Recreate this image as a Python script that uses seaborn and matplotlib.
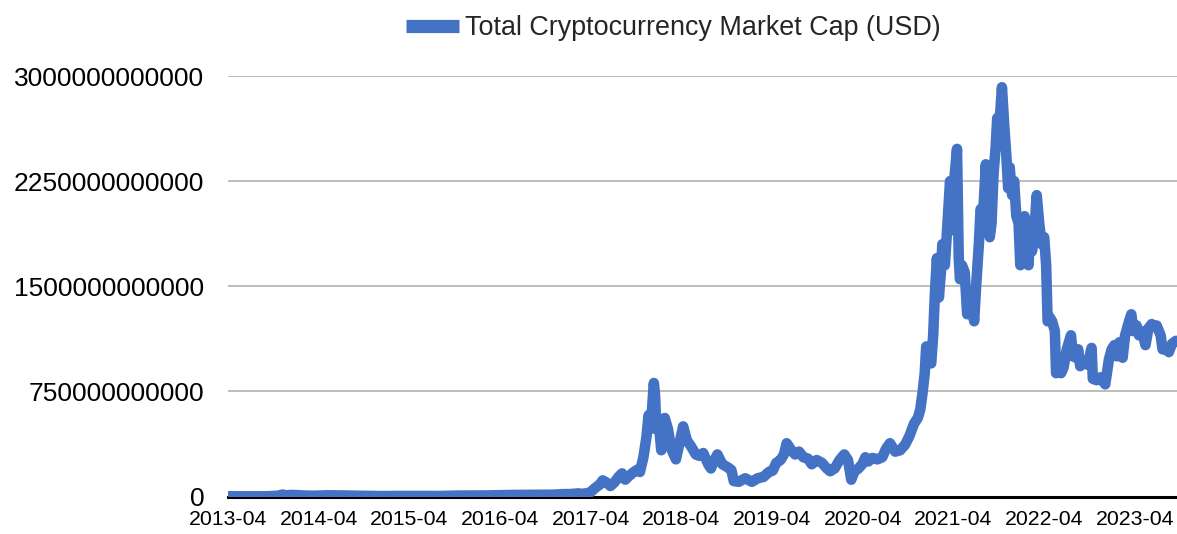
import matplotlib
matplotlib.use("Agg")
import matplotlib.pyplot as plt
from matplotlib.lines import Line2D
import seaborn as sns
import pandas as pd
import numpy as np

# Total cryptocurrency market capitalisation, billions of USD
dates = [
    "2013-04-28", "2013-06-01", "2013-08-01", "2013-10-01", "2013-11-15", "2013-12-04",
    "2013-12-18", "2014-01-05", "2014-02-01", "2014-02-25", "2014-04-10", "2014-06-01",
    "2014-08-01", "2014-10-01", "2015-01-14", "2015-03-01", "2015-06-01", "2015-09-01",
    "2015-11-05", "2016-01-01", "2016-03-01", "2016-06-18", "2016-09-01", "2016-12-01",
    "2017-01-05", "2017-02-01", "2017-03-10", "2017-03-25", "2017-04-25", "2017-05-15",
    "2017-06-03", "2017-06-15", "2017-06-30", "2017-07-16", "2017-08-01", "2017-08-18",
    "2017-09-01", "2017-09-14", "2017-09-28", "2017-10-15", "2017-10-31", "2017-11-12",
    "2017-11-26", "2017-12-08", "2017-12-17", "2017-12-22", "2017-12-30", "2018-01-07",
    "2018-01-12", "2018-01-17", "2018-01-25", "2018-02-06", "2018-02-20", "2018-03-05",
    "2018-03-18", "2018-04-06", "2018-04-20", "2018-05-05", "2018-05-20", "2018-06-05",
    "2018-06-25", "2018-07-10", "2018-07-25", "2018-08-14", "2018-08-25", "2018-09-05",
    "2018-09-20", "2018-10-10", "2018-10-30", "2018-11-15", "2018-11-25", "2018-12-15",
    "2019-01-10", "2019-02-06", "2019-03-01", "2019-03-25", "2019-04-15", "2019-05-01",
    "2019-05-15", "2019-06-01", "2019-06-15", "2019-06-26", "2019-07-15", "2019-07-30",
    "2019-08-15", "2019-09-01", "2019-09-20", "2019-10-05", "2019-10-25", "2019-11-15",
    "2019-12-05", "2019-12-18", "2020-01-05", "2020-01-25", "2020-02-13", "2020-02-28",
    "2020-03-12", "2020-03-25", "2020-04-10", "2020-04-25", "2020-05-08", "2020-05-20",
    "2020-06-05", "2020-06-25", "2020-07-15", "2020-07-30", "2020-08-15", "2020-09-05",
    "2020-09-25", "2020-10-15", "2020-11-01", "2020-11-20", "2020-12-05", "2020-12-15",
    "2020-12-25", "2021-01-02", "2021-01-08", "2021-01-20", "2021-01-28", "2021-02-05",
    "2021-02-12", "2021-02-20", "2021-02-28", "2021-03-08", "2021-03-14", "2021-03-24",
    "2021-04-02", "2021-04-14", "2021-04-24", "2021-05-03", "2021-05-12", "2021-05-19",
    "2021-05-24", "2021-06-01", "2021-06-12", "2021-06-22", "2021-06-30", "2021-07-10",
    "2021-07-20", "2021-07-28", "2021-08-08", "2021-08-15", "2021-08-25", "2021-09-05",
    "2021-09-12", "2021-09-21", "2021-09-28", "2021-10-06", "2021-10-15", "2021-10-21",
    "2021-10-28", "2021-11-09", "2021-11-18", "2021-11-26", "2021-12-04", "2021-12-10",
    "2021-12-20", "2021-12-28", "2022-01-06", "2022-01-15", "2022-01-22", "2022-01-30",
    "2022-02-08", "2022-02-18", "2022-02-24", "2022-03-02", "2022-03-10", "2022-03-18",
    "2022-03-29", "2022-04-08", "2022-04-18", "2022-04-28", "2022-05-06", "2022-05-12",
    "2022-05-20", "2022-05-30", "2022-06-10", "2022-06-15", "2022-06-25", "2022-07-05",
    "2022-07-15", "2022-07-28", "2022-08-14", "2022-08-22", "2022-09-05", "2022-09-12",
    "2022-09-20", "2022-10-05", "2022-10-20", "2022-11-05", "2022-11-10", "2022-11-25",
    "2022-12-10", "2022-12-30", "2023-01-14", "2023-01-25", "2023-02-05", "2023-02-15",
    "2023-02-25", "2023-03-10", "2023-03-20", "2023-04-05", "2023-04-14", "2023-04-22",
    "2023-05-05", "2023-05-15", "2023-05-28", "2023-06-10", "2023-06-22", "2023-07-05",
    "2023-07-15", "2023-07-25", "2023-08-10", "2023-08-18", "2023-09-01", "2023-09-12",
    "2023-09-25", "2023-10-10", "2023-10-20",
]
cap_billions = [
    1.5, 1.3, 1.2, 1.6, 5.5, 14,
    8, 11, 10, 7, 5.5, 8.5,
    7.5, 5.5, 3, 4, 3.7, 3.8,
    6.5, 7, 7.5, 11, 12, 13,
    17, 17, 22, 18, 28, 60,
    85, 115, 100, 75, 100, 140,
    165, 120, 145, 170, 190, 175,
    280, 420, 580, 480, 600, 810,
    720, 480, 560, 330, 560, 480,
    340, 265, 380, 500, 400, 360,
    300, 290, 310, 230, 200, 250,
    300, 230, 210, 190, 110, 105,
    130, 105, 130, 140, 175, 185,
    240, 260, 300, 380, 330, 300,
    320, 280, 270, 230, 260, 240,
    200, 180, 200, 260, 300, 260,
    120, 180, 200, 230, 280, 250,
    275, 265, 280, 340, 380, 320,
    330, 370, 430, 520, 560, 620,
    750, 880, 1070, 1000, 950, 1150,
    1450, 1700, 1420, 1600, 1800, 1650,
    1900, 2250, 1900, 2300, 2480, 1700,
    1550, 1650, 1600, 1300, 1450, 1400,
    1250, 1500, 1800, 2050, 2000, 2370,
    2100, 1850, 1950, 2300, 2500, 2700,
    2600, 2920, 2650, 2450, 2200, 2350,
    2150, 2250, 2000, 1950, 1650, 1700,
    2000, 1800, 1650, 1900, 1750, 1850,
    2150, 1950, 1800, 1850, 1650, 1250,
    1280, 1250, 1180, 880, 900, 880,
    920, 1050, 1150, 1000, 990, 1050,
    930, 960, 940, 1060, 840, 830,
    850, 800, 980, 1050, 1080, 1000,
    1100, 990, 1150, 1250, 1300, 1180,
    1220, 1150, 1180, 1080, 1200, 1230,
    1210, 1220, 1150, 1050, 1050, 1030,
    1090, 1110, 1110,
]

tick_dates = ["2013-04-28", "2014-04-28", "2015-04-28", "2016-04-28", "2017-04-28",
              "2018-04-28", "2019-04-28", "2020-04-28", "2021-04-28", "2022-04-28",
              "2023-04-28"]
tick_labels = ["2013-04", "2014-04", "2015-04", "2016-04", "2017-04", "2018-04",
               "2019-04", "2020-04", "2021-04", "2022-04", "2023-04"]
y_ticks = [0, 750e9, 1500e9, 2250e9, 3000e9]
y_labels = ["0", "750000000000", "1500000000000", "2250000000000", "3000000000000"]
series_name = "Total Cryptocurrency Market Cap (USD)"

LINE_BLUE = "#4472C4"

sns.set_style("white")
plt.rcParams["font.family"] = ["Liberation Sans", "DejaVu Sans"]

df = pd.DataFrame({"date": pd.to_datetime(dates),
                   "cap": np.array(cap_billions, dtype=float) * 1e9})

W, H = 1177, 534
fig = plt.figure(figsize=(W / 100, H / 100), dpi=100)
left, right = 228 / W, 1.0
bottom, top = (H - 496.5) / H, (H - 76) / H
ax = fig.add_axes([left, bottom, right - left, top - bottom])

sns.lineplot(data=df, x="date", y="cap", ax=ax, color=LINE_BLUE,
             linewidth=7.6, legend=False, zorder=3)
ln = ax.lines[0]
ln.set_solid_joinstyle("round")
ln.set_solid_capstyle("round")

ax.set_xlim(pd.Timestamp("2013-04-28"), pd.Timestamp("2023-10-15"))
ax.set_ylim(0, 3e12)

ax.set_yticks(y_ticks)
ax.set_yticklabels(y_labels)
ax.set_xticks(pd.to_datetime(tick_dates))
ax.set_xticklabels(tick_labels)

ax.yaxis.grid(True, color="#bdbdbd", linewidth=1.4)
ax.xaxis.grid(False)
ax.set_axisbelow(True)

for side in ("top", "left", "right"):
    ax.spines[side].set_visible(False)
ax.spines["bottom"].set_color("#000000")
ax.spines["bottom"].set_linewidth(2.2)
ax.spines["bottom"].set_zorder(2.5)

ax.tick_params(axis="y", length=0, pad=17, labelsize=19, labelcolor="#000000")
ax.tick_params(axis="x", length=0, pad=10, labelsize=15.3, labelcolor="#000000")
ax.set_xlabel("")
ax.set_ylabel("")

handle = Line2D([0], [0], color=LINE_BLUE, linewidth=9.5, solid_capstyle="butt")
fig.legend([handle], [series_name], loc="center",
           bbox_to_anchor=(673 / W, 1 - 28 / H), frameon=False, fontsize=19.4,
           handlelength=2.0, handletextpad=0.2, borderpad=0, borderaxespad=0)

fig.savefig("out.png", dpi=100)
